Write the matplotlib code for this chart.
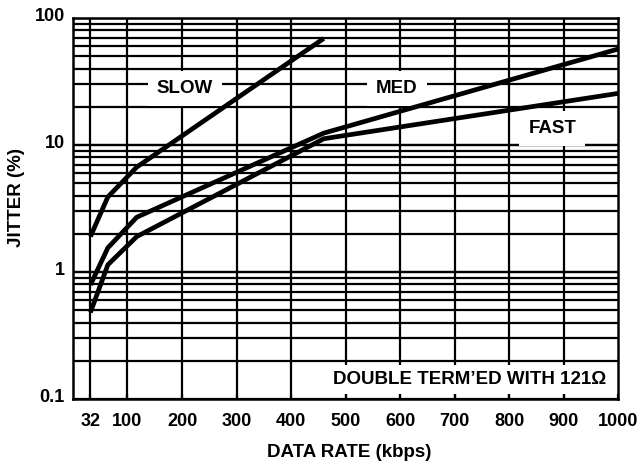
import matplotlib
matplotlib.use("Agg")
import matplotlib.pyplot as plt
import matplotlib.transforms as mtransforms

# data
rate_slow = [32, 64, 117, 460]
jitter_slow = [1.9, 3.9, 6.7, 69]
rate_med = [32, 64, 117, 460, 1000]
jitter_med = [0.79, 1.55, 2.7, 12.4, 57]
rate_fast = [32, 64, 117, 460, 1000]
jitter_fast = [0.48, 1.14, 1.9, 11.2, 25.5]

x_ticks = [32, 100, 200, 300, 400, 500, 600, 700, 800, 900, 1000]
y_ticks = [0.1, 1, 10, 100]
y_tick_labels = ["0.1", "1", "10", "100"]
y_grid = [m * d for d in (0.1, 1, 10) for m in range(1, 11)]


def main():
    plt.rcParams["font.family"] = ["Liberation Sans", "DejaVu Sans"]
    plt.rcParams["font.weight"] = "bold"
    fig = plt.figure(figsize=(6.4, 4.61), dpi=100)
    ax = fig.add_axes([0.114, 0.1345, 0.852, 0.8265])
    ax.set_yscale("log")
    ax.set_xlim(0, 1000)
    ax.set_ylim(0.1, 100)

    # grid drawn by hand so the label boxes can sit above it
    for x in x_ticks[:-1]:
        ax.axvline(x, color="black", lw=1.6, zorder=1)
    for y in y_grid:
        ax.axhline(y, color="black", lw=1.6, zorder=1)

    lw = 3.4
    ax.plot(rate_slow, jitter_slow, color="black", lw=lw, zorder=3,
            solid_capstyle="butt")
    ax.plot(rate_med, jitter_med, color="black", lw=lw, zorder=3,
            solid_capstyle="butt")
    ax.plot(rate_fast, jitter_fast, color="black", lw=lw, zorder=3,
            solid_capstyle="butt")

    kw = dict(ha="center", va="center", fontsize=13.5, fontweight="bold",
              zorder=2)
    box = dict(facecolor="white", edgecolor="none", pad=6.5)
    ax.text(205, 28, "SLOW", bbox=box, **kw)
    ax.text(594, 28, "MED", bbox=box, **kw)
    ax.text(879, 13.6, "FAST", bbox=box, **kw)
    ax.text(728, 0.1425, "DOUBLE TERM\u2019ED WITH 121\u03a9",
            bbox=dict(facecolor="white", edgecolor="none", pad=4), **kw)

    ax.set_axisbelow(False)
    ax.set_xticks(x_ticks)
    ax.set_xticklabels([str(x) for x in x_ticks])
    ax.set_yticks(y_ticks)
    ax.set_yticklabels(y_tick_labels)
    ax.yaxis.set_minor_locator(matplotlib.ticker.NullLocator())
    ax.tick_params(axis="x", direction="in", length=3.5, width=1.6, pad=10,
                   labelsize=13)
    ax.tick_params(axis="y", direction="in", length=0, pad=6, labelsize=13)
    up = mtransforms.ScaledTranslation(0, 3 / 100, fig.dpi_scale_trans)
    for lab in ax.get_yticklabels():
        lab.set_transform(lab.get_transform() + up)
    for s in ax.spines.values():
        s.set_linewidth(1.8)

    ax.set_xlabel("DATA RATE (kbps)", fontsize=13.5, fontweight="bold")
    ax.set_ylabel("JITTER (%)", fontsize=13.5, fontweight="bold")
    ax.xaxis.set_label_coords(0.506, -0.118)
    ax.yaxis.set_label_coords(-0.088, 0.528)
    fig.savefig("out.png", dpi=100)


if __name__ == "__main__":
    main()
